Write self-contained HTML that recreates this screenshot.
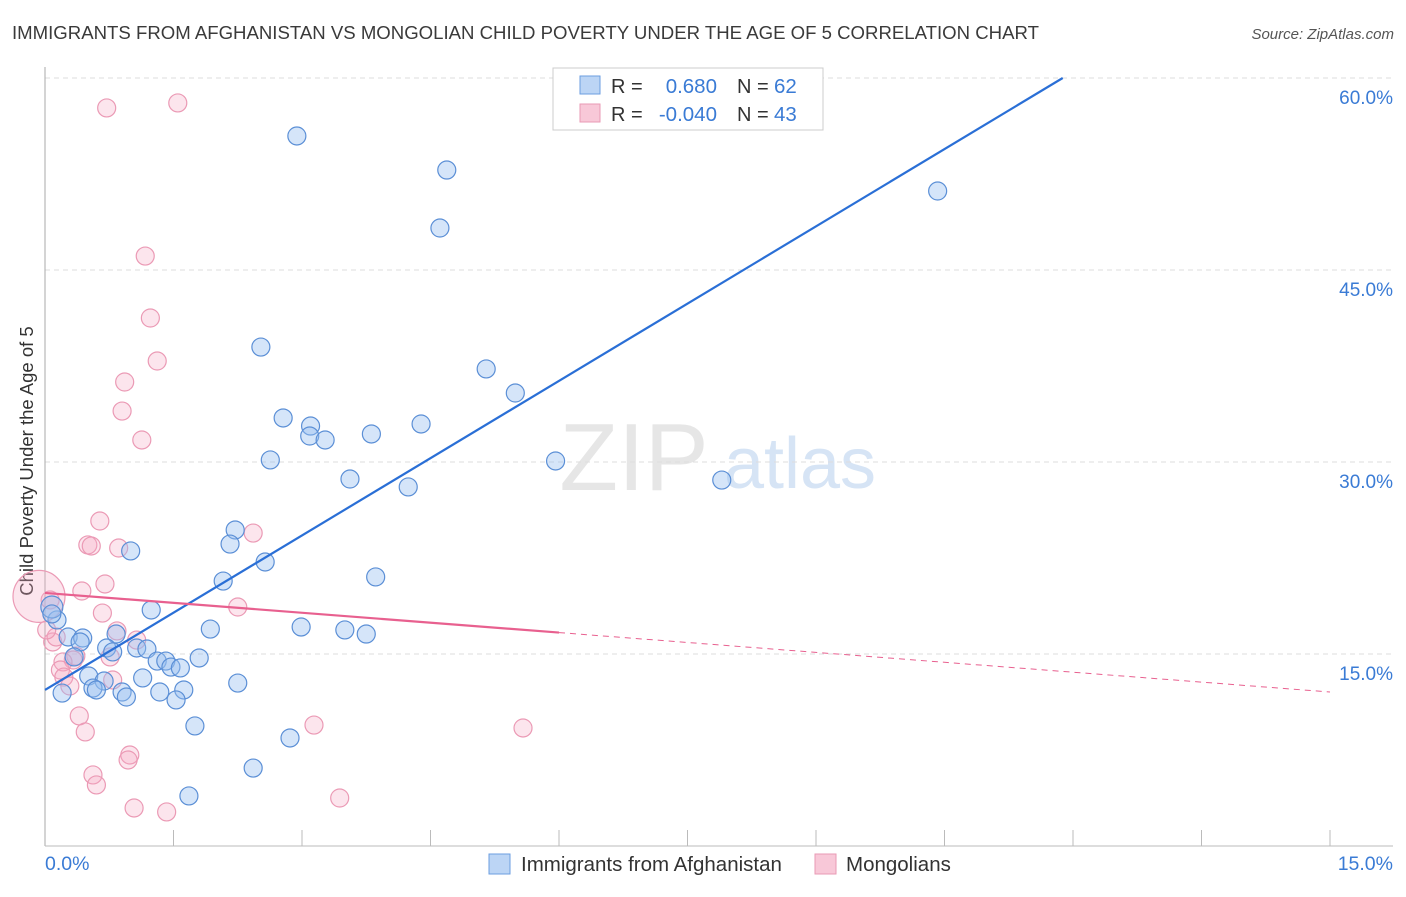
<!DOCTYPE html>
<html><head><meta charset="utf-8">
<style>
body{margin:0;background:#fff;font-family:"Liberation Sans",sans-serif;}
svg text{font-family:"Liberation Sans",sans-serif;}
</style></head>
<body>
<svg id="chart" width="1406" height="892" viewBox="0 0 1406 892">
<text x="12" y="39" font-size="18.6" fill="#3a3a3a">IMMIGRANTS FROM AFGHANISTAN VS MONGOLIAN CHILD POVERTY UNDER THE AGE OF 5 CORRELATION CHART</text>
<text x="1394" y="39" font-size="15" fill="#555" font-style="italic" text-anchor="end">Source: ZipAtlas.com</text>
<g>
<text x="634" y="490" font-size="96" fill="#e6e6e6" font-family="Liberation Serif" text-anchor="middle">ZIP</text>
<text x="800" y="488" font-size="72" fill="#d6e4f5" text-anchor="middle">atlas</text>
</g>
<g id="grid"></g>
<line x1="45" y1="67" x2="45" y2="846" stroke="#aaa"/>
<line x1="45" y1="846" x2="1393" y2="846" stroke="#bbb"/>
<text x="27" y="455" font-size="18.5" fill="#333" text-anchor="middle" transform="rotate(-90 33 455)">Child Poverty Under the Age of 5</text>
<text x="45" y="870" font-size="19.5" fill="#3a7bd5">0.0%</text>
<text x="1393" y="870" font-size="19.5" fill="#3a7bd5" text-anchor="end">15.0%</text>
<g id="pts"></g>
<g id="lines"></g>
<g>
<rect x="553" y="68" width="270" height="62" fill="#fff" stroke="#ccc"/>
<rect x="580" y="76" width="20" height="18" fill="#bcd5f5" stroke="#6b9ee0"/>
<rect x="580" y="104" width="20" height="18" fill="#f8c8d8" stroke="#e99ab4"/>
<text x="611" y="93" font-size="20" fill="#333">R =</text>
<text x="717" y="93" font-size="20.5" fill="#3a7bd5" text-anchor="end">0.680</text>
<text x="737" y="93" font-size="20" fill="#333">N =</text>
<text x="774" y="93" font-size="20.5" fill="#3a7bd5">62</text>
<text x="611" y="121" font-size="20" fill="#333">R =</text>
<text x="717" y="121" font-size="20.5" fill="#3a7bd5" text-anchor="end">-0.040</text>
<text x="737" y="121" font-size="20" fill="#333">N =</text>
<text x="774" y="121" font-size="20.5" fill="#3a7bd5">43</text>
</g>
<g>
<rect x="489" y="854" width="21" height="20" fill="#bcd5f5" stroke="#6b9ee0"/>
<text x="521" y="871" font-size="20.5" fill="#333">Immigrants from Afghanistan</text>
</g>
<g>
<rect x="815" y="854" width="21" height="20" fill="#f8c8d8" stroke="#e99ab4"/>
<text x="846" y="871" font-size="20.5" fill="#333">Mongolians</text>
</g>
</svg>
<script>
const yTicks=[15,30,45,60];
const xTicks=[0,1.5,3,4.5,6,7.5,9,10.5,12,13.5,15];
const blueX=[2.94,4.69,4.61,10.42,2.52,5.15,5.49,2.78,3.10,3.09,3.27,3.81,4.39,2.63,3.56,4.24,5.96,7.90,2.22,2.16,1.00,2.57,2.08,3.86,1.24,0.14,0.08,1.93,2.99,3.50,3.75,0.27,0.44,0.41,0.83,0.72,1.07,1.19,0.79,0.34,1.31,1.41,1.47,1.58,1.80,0.51,1.14,0.69,0.56,0.60,0.90,0.95,1.34,1.62,0.20,1.53,2.25,1.75,2.86,2.43,1.68,0.08];
const blueY=[55.47,52.81,48.28,51.17,38.98,37.27,35.39,33.44,32.81,32.03,31.72,32.19,32.97,30.16,28.67,28.05,30.08,28.59,24.69,23.59,23.05,22.19,20.70,21.02,18.44,17.66,18.67,16.95,17.11,16.88,16.56,16.33,16.25,15.94,16.56,15.47,15.47,15.39,15.16,14.77,14.45,14.45,13.98,13.91,14.69,13.28,13.13,12.89,12.34,12.19,12.03,11.64,12.03,12.19,11.95,11.41,12.73,9.38,8.44,6.09,3.91,18.13];
const pinkX=[0.72,1.55,1.17,1.23,1.31,0.93,0.90,1.13,0.64,2.43,0.50,0.54,0.86,0.70,0.43,0.67,2.25,0.06,0.00,0.84,1.07,0.09,0.13,0.36,0.33,0.76,0.21,0.18,0.22,0.79,0.29,0.40,0.47,3.14,5.58,0.99,0.97,0.56,0.60,1.04,1.42,3.44,0.02];
const pinkY=[57.66,58.05,46.09,41.25,37.89,36.25,33.98,31.72,25.39,24.45,23.52,23.44,23.28,20.47,19.92,18.20,18.67,19.22,19.5,16.80,16.09,15.94,16.33,14.84,14.53,14.77,14.38,13.75,13.20,12.97,12.50,10.16,8.91,9.45,9.22,7.11,6.72,5.55,4.77,2.97,2.66,3.75,16.88];
const blueTrend=[12.19,60,11.88];
const pinkTrend=[19.77,12.03];
const pinkSolidEnd=6;
const xs=v=>45+v/15*1285;
const ys=v=>654-(v-15)*12.8;
const NS="http://www.w3.org/2000/svg";
function mk(tag,attrs,parent){const e=document.createElementNS(NS,tag);for(const k in attrs)e.setAttribute(k,attrs[k]);parent.appendChild(e);return e;}
const grid=document.getElementById('grid');
yTicks.forEach(t=>{
  const l=mk('line',{x1:45,x2:1393,y1:ys(t),y2:ys(t),stroke:'#ddd','stroke-dasharray':'5,4'},grid);
  
  
  const tx=mk('text',{x:1393,y:ys(t)+26,'font-size':19,fill:'#3a7bd5','text-anchor':'end'},grid);
  tx.textContent=t.toFixed(1)+'%';
  
  
});
xTicks.forEach(t=>{
  const l=mk('line',{x1:xs(t),x2:xs(t),y1:830,y2:846,stroke:'#bbb'},grid);
  
  
});
const pts=document.getElementById('pts');
pinkX.forEach((x,i)=>{
  const big=(x===0);
  const c=mk('circle',{cx:xs(x)-(big?6:0),cy:ys(pinkY[i]),r:big?26:9,fill:'rgba(245,170,195,0.3)',stroke:'#eb9ab5','stroke-width':1.2},pts);
  
  
});
blueX.forEach((x,i)=>{
  const c=mk('circle',{cx:xs(x),cy:ys(blueY[i]),r:(i===26)?11:9,fill:'rgba(150,190,240,0.4)',stroke:'#5b8fd6','stroke-width':1.2},pts);
  
  
});
const lines=document.getElementById('lines');
const bl=mk('line',{x1:xs(0),y1:ys(blueTrend[0]),x2:xs(blueTrend[2]),y2:ys(blueTrend[1]),stroke:'#2a6fd6','stroke-width':2.2},lines);


const py=x=>pinkTrend[0]+(pinkTrend[1]-pinkTrend[0])*x/15;
const pl=mk('line',{x1:xs(0),y1:ys(py(0)),x2:xs(pinkSolidEnd),y2:ys(py(pinkSolidEnd)),stroke:'#e8608f','stroke-width':2.2},lines);


const pd=mk('line',{x1:xs(pinkSolidEnd),y1:ys(py(pinkSolidEnd)),x2:xs(15),y2:ys(py(15)),stroke:'#e8608f','stroke-width':1,'stroke-dasharray':'6,5'},lines);


</script>
</body></html>
